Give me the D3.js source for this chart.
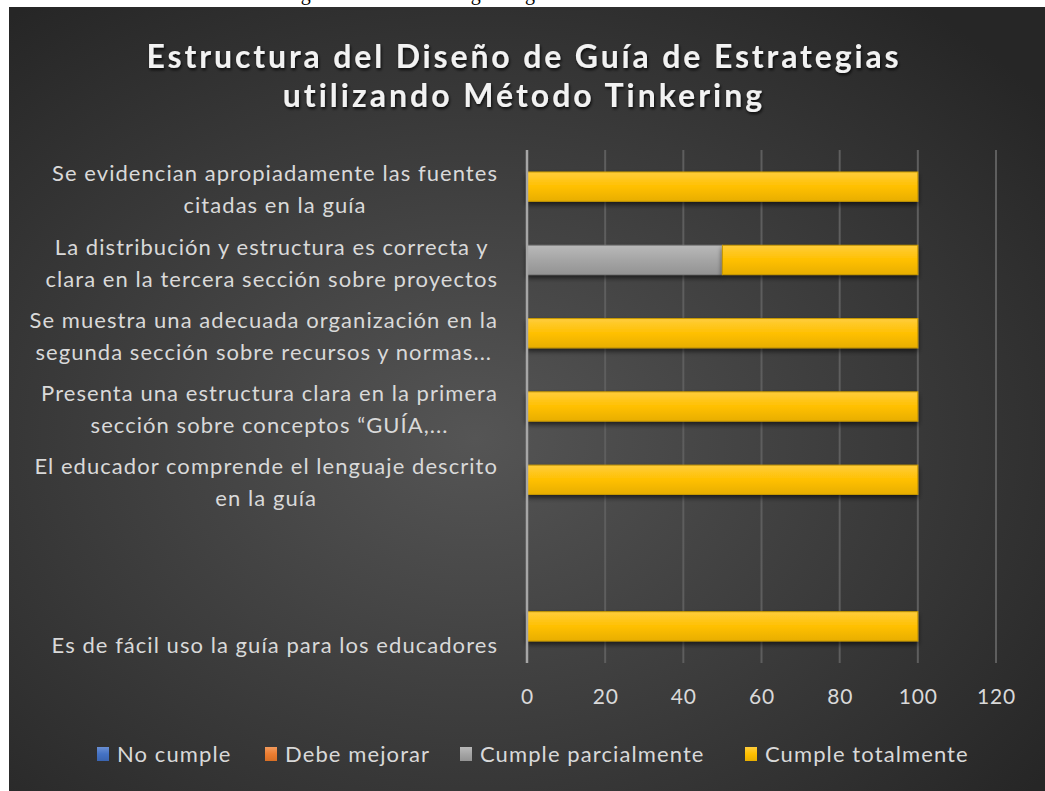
<!DOCTYPE html>
<html>
<head>
<meta charset="utf-8">
<script src="https://cdn.jsdelivr.net/npm/d3@7"></script>
<style>
  body { margin: 0; background: #fff; }
  svg { display: block; }
</style>
</head>
<body>
<svg id="chart"></svg>
<script>
// values
var categories = [
  ["Se evidencian apropiadamente las fuentes", "citadas en la guía"],
  ["La distribución y estructura es correcta y", "clara en la tercera sección sobre proyectos"],
  ["Se muestra una adecuada organización en la", "segunda sección sobre recursos y normas..."],
  ["Presenta una estructura clara en la primera", "sección sobre conceptos “GUÍA,..."],
  ["El educador comprende el lenguaje descrito", "en la guía"],
  [""],
  ["", "Es de fácil uso la guía para los educadores"]
];
var seriesNames = ["No cumple", "Debe mejorar", "Cumple parcialmente", "Cumple totalmente"];
var noCumple = [0, 0, 0, 0, 0, 0, 0];
var debeMejorar = [0, 0, 0, 0, 0, 0, 0];
var cumpleParcial = [0, 50, 0, 0, 0, 0, 0];
var cumpleTotal = [100, 50, 100, 100, 100, 0, 100];
var xTicks = [0, 20, 40, 60, 80, 100, 120];
var titleLines = ["Estructura del Diseño de Guía de Estrategias", "utilizando Método Tinkering"];
var caption = "Figura 8. Resultados según la guía";

var W = 1045, H = 791;
var svg = d3.select("#chart").attr("width", W).attr("height", H);
var defs = svg.append("defs");

var bg = defs.append("radialGradient").attr("id", "bg")
  .attr("cx", "45%").attr("cy", "55%").attr("r", "70%");
bg.append("stop").attr("offset", "0%").attr("stop-color", "#555555");
bg.append("stop").attr("offset", "100%").attr("stop-color", "#262626");

var colors = ["#4472c4", "#ed7d31", "#a5a5a5", "#ffc000"];
var tops = ["#6a8fd3", "#f29a5c", "#b9b9b9", "#ffcd3c"];
var bots = ["#3a64b0", "#d86f25", "#939393", "#e8ae00"];
colors.forEach(function(c, i) {
  var g = defs.append("linearGradient").attr("id", "g" + i)
    .attr("x1", 0).attr("y1", 0).attr("x2", 0).attr("y2", 1);
  g.append("stop").attr("offset", "0%").attr("stop-color", tops[i]);
  g.append("stop").attr("offset", "50%").attr("stop-color", c);
  g.append("stop").attr("offset", "100%").attr("stop-color", bots[i]);
});

var shadow = defs.append("filter").attr("id", "shadow")
  .attr("x", "-5%").attr("y", "-30%").attr("width", "110%").attr("height", "180%");
shadow.append("feDropShadow").attr("dx", 0).attr("dy", 3).attr("stdDeviation", 2.5)
  .attr("flood-color", "#000").attr("flood-opacity", 0.6);

var tshadow = defs.append("filter").attr("id", "tshadow");
tshadow.append("feDropShadow").attr("dx", 1).attr("dy", 2).attr("stdDeviation", 1.5)
  .attr("flood-color", "#000").attr("flood-opacity", 0.8);

// caption cut off at the top of the page
svg.append("text").attr("x", 284).attr("y", 0)
  .attr("font-family", "Liberation Serif").attr("font-size", 20).attr("fill", "#000")
  .text(caption);

// chart panel
svg.append("rect").attr("x", 9).attr("y", 7).attr("width", W - 9).attr("height", H - 7)
  .attr("fill", "url(#bg)");

// fit a text to a width by spreading letters
function fitWidth(el, target) {
  var t = el.text();
  var w = el.node().getComputedTextLength();
  if (t.length > 1) el.attr("letter-spacing", (target - w) / (t.length - 1));
}

// title
var font = "Lato, 'Open Sans', sans-serif";
var title = svg.append("g").attr("filter", "url(#tshadow)");
var titleBase = [68, 107], titleWidth = [752, 480];
titleLines.forEach(function(t, i) {
  var el = title.append("text").attr("x", 524).attr("y", titleBase[i])
    .attr("text-anchor", "middle").attr("font-family", font)
    .attr("font-size", 32).attr("font-weight", "bold").attr("fill", "#f2f2f2").text(t);
  fitWidth(el, titleWidth[i]);
});

// scales
var x = d3.scaleLinear().domain([0, 120]).range([527, 996]);
var y = d3.scaleBand().domain(d3.range(categories.length)).range([150, 663])
  .paddingInner(0.6).paddingOuter(0.3);

// gridlines
svg.append("g").selectAll("line").data(xTicks.slice(1)).join("line")
  .attr("x1", x).attr("x2", x).attr("y1", 150).attr("y2", 663)
  .attr("stroke", "#5e5e5e").attr("stroke-width", 2);

// stacked bars
var rows = categories.map(function(c, i) {
  return { i: i, s0: noCumple[i], s1: debeMejorar[i], s2: cumpleParcial[i], s3: cumpleTotal[i] };
});
var stack = d3.stack().keys(["s0", "s1", "s2", "s3"])(rows);
var layers = svg.append("g").selectAll("g").data(stack).join("g")
  .attr("fill", function(d, i) { return "url(#g" + i + ")"; })
  .attr("filter", "url(#shadow)");
layers.selectAll("rect").data(function(d) { return d.filter(function(p) { return p[1] > p[0]; }); })
  .join("rect")
  .attr("x", function(d) { return x(d[0]); })
  .attr("width", function(d) { return x(d[1]) - x(d[0]); })
  .attr("y", function(d) { return y(d.data.i); })
  .attr("height", y.bandwidth())
  .attr("stroke", function(d) { return d3.select(this.parentNode).datum().key === "s3" ? "#c99a00" : "#808080"; })
  .attr("stroke-width", 1);

// value axis line
svg.append("line").attr("x1", x(0)).attr("x2", x(0)).attr("y1", 150).attr("y2", 663)
  .attr("stroke", "#a6a6a6").attr("stroke-width", 2.5);

// x tick labels
var xAxis = d3.axisBottom(x).tickValues(xTicks).tickSize(0).tickPadding(0);
var xg = svg.append("g").attr("transform", "translate(0,689)").call(xAxis);
xg.select(".domain").remove();
xg.selectAll("text").attr("font-family", font).attr("font-size", 21)
  .attr("fill", "#d9d9d9").attr("dy", "0.71em").attr("y", 0).attr("letter-spacing", 0.8);

// category labels, wrapped lines centred on the longest one
var labelFs = 22;
var lg = svg.append("g").attr("font-family", font).attr("font-size", labelFs)
  .attr("fill", "#d9d9d9").attr("letter-spacing", 1.05);
categories.forEach(function(lines, i) {
  var cy = y(i) + y.bandwidth() / 2;
  var g = lg.append("g");
  var texts = lines.map(function(l, k) {
    return g.append("text").attr("y", cy - 13 + k * 32).attr("dy", "0.35em")
      .attr("text-anchor", "middle").text(l);
  });
  var maxW = d3.max(texts, function(t) { return t.node().getComputedTextLength(); });
  texts.forEach(function(t) { t.attr("x", 498 - maxW / 2); });
});

// legend
var legX = [97, 265, 460, 745];
var leg = svg.append("g").selectAll("g").data(seriesNames).join("g")
  .attr("transform", function(d, i) { return "translate(" + legX[i] + ",747)"; });
leg.append("rect").attr("width", 12).attr("height", 14)
  .attr("fill", function(d, i) { return "url(#g" + i + ")"; });
leg.append("text").attr("x", 20).attr("y", 7).attr("dy", "0.35em")
  .attr("font-family", font).attr("font-size", 22).attr("fill", "#d9d9d9")
  .attr("letter-spacing", 1.1)
  .text(function(d) { return d; });
</script>
</body>
</html>
